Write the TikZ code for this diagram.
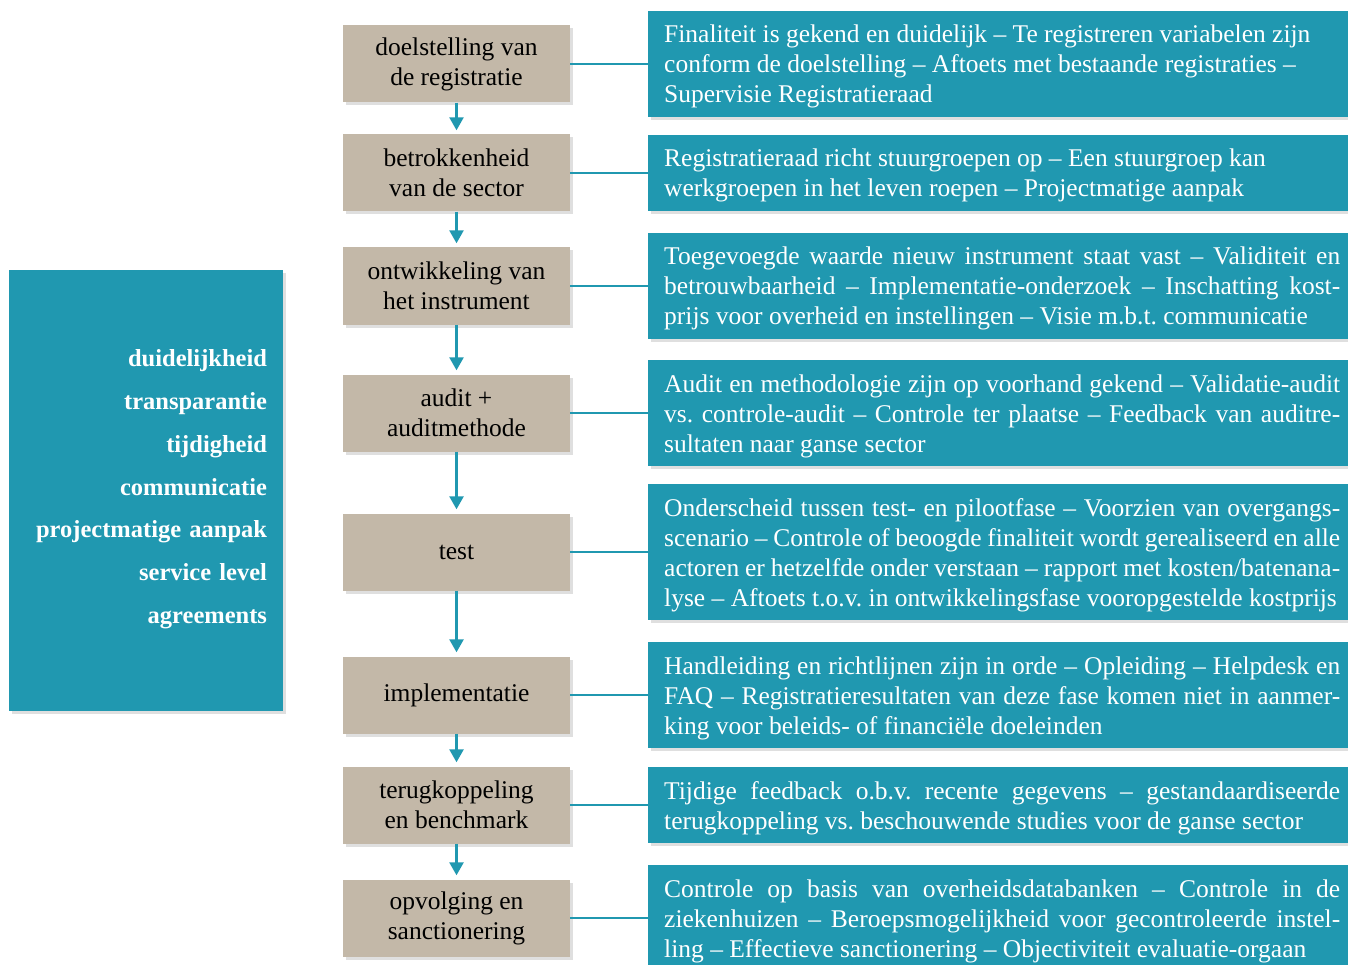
\documentclass[tikz,border=0pt]{standalone}
\usepackage{fontspec}
\setmainfont{Liberation Serif}
\usetikzlibrary{arrows.meta}
\usetikzlibrary{shadows}
\frenchspacing
\definecolor{petrol}{RGB}{32,152,176}
\definecolor{zand}{RGB}{195,184,168}
\tikzset{
  schaduw/.style={drop shadow={shadow xshift=3pt,shadow yshift=-3pt,opacity=0.25}},
  stapbox/.style={fill=zand,schaduw,minimum width=227pt,minimum height=77pt,inner sep=0pt,align=center,font=\fontsize{25.5}{30}\selectfont},
  infobox/.style={fill=petrol,schaduw,anchor=west,text=white,text width=676pt,inner xsep=16pt,inner ysep=8pt,align=justify,font=\fontsize{25.5}{30}\selectfont},
  lijn/.style={petrol,line width=2.5pt},
  pijl/.style={lijn,-{Triangle[width=14pt,length=13pt]},shorten >=4pt}
}
% stap: naam, hoogte, tekst links, tekst rechts
\newcommand{\stap}[4]{ \node[stapbox] (s#1) at (456.5,#2) {#3}; \node[infobox] (i#1) at (648,#2) {\rule{0pt}{24pt}#4\rule[-6pt]{0pt}{6pt}}; \draw[lijn] (s#1) -- (i#1);}

\begin{document}
\begin{tikzpicture}[x=1pt,y=-1pt]
\useasboundingbox (0,0) rectangle (1348,965);
% kernwaarden
\node[fill=petrol,schaduw,text=white,minimum width=274pt,minimum height=441pt,inner sep=0pt,text width=242pt,align=right,font=\bfseries\fontsize{24.5}{42.7}\selectfont] (kern) at (146,490.5)
  {duidelijkheid\\transparantie\\tijdigheid\\communicatie\\projectmatige aanpak\\service level\\agreements\rule[-8pt]{0pt}{8pt}};
% stappen
\stap{1}{64}{doelstelling van\\de registratie}{Finaliteit is gekend en duidelijk – Te registreren variabelen zijn\\conform de doelstelling – Aftoets met bestaande registraties –\\Supervisie Registratieraad}
\stap{2}{173}{betrokkenheid\\van de sector}{Registratieraad richt stuurgroepen op – Een stuurgroep kan\\werkgroepen in het leven roepen – Projectmatige aanpak}
\stap{3}{286}{ontwikkeling van\\het instrument}{Toegevoegde waarde nieuw instrument staat vast – Validiteit en\linebreak betrouwbaarheid – Implementatie-onderzoek – Inschatting kost-\linebreak prijs voor overheid en instellingen – Visie m.b.t. communicatie}
\stap{4}{413}{audit +\\auditmethode}{Audit en methodologie zijn op voorhand gekend – Validatie-audit\linebreak vs. controle-audit – Controle ter plaatse – Feedback van auditre-\linebreak sultaten naar ganse sector}
\stap{5}{552}{test}{Onderscheid tussen test- en pilootfase – Voorzien van overgangs-\linebreak scenario – Controle of beoogde finaliteit wordt gerealiseerd en alle\linebreak actoren er hetzelfde onder verstaan – rapport met kosten/batenana-\linebreak lyse – Aftoets t.o.v. in ontwikkelingsfase vooropgestelde kostprijs}
\stap{6}{695}{implementatie}{Handleiding en richtlijnen zijn in orde – Opleiding – Helpdesk en\linebreak FAQ – Registratieresultaten van deze fase komen niet in aanmer-\linebreak king voor beleids- of financiële doeleinden}
\stap{7}{805}{terugkoppeling\\en benchmark}{Tijdige feedback o.b.v. recente gegevens – gestandaardiseerde\linebreak terugkoppeling vs. beschouwende studies voor de ganse sector}
\stap{8}{918}{opvolging en\\sanctionering}{Controle op basis van overheidsdatabanken – Controle in de\linebreak ziekenhuizen – Beroepsmogelijkheid voor gecontroleerde instel-\linebreak ling – Effectieve sanctionering – Objectiviteit evaluatie-orgaan}
% pijlen
\foreach \a/\b in {1/2,2/3,3/4,4/5,5/6,6/7,7/8}
  \draw[pijl] (s\a) -- (s\b);
\end{tikzpicture}
\end{document}
